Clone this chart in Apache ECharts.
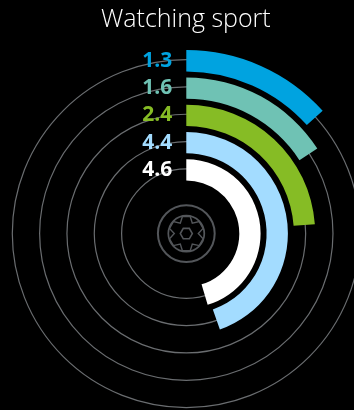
<!DOCTYPE html>
<html><head><meta charset="utf-8">
<style>html,body{margin:0;padding:0;background:#000}#c{width:354px;height:410px}</style>
<script src="https://cdn.jsdelivr.net/npm/echarts@6/dist/echarts.min.js"></script>
</head><body><div id="c"></div>
<script>
const title = 'Watching sport';
// inner to outer
const valueLabels = ['4.6', '4.4', '2.4', '1.6', '1.3'];
const sweepDegrees = [163.3, 160.7, 85.8, 57, 48];
const barColors = ['#ffffff', '#a3dcff', '#86bc25', '#6fc2b4', '#00a3e0'];
const ringIndex = [1, 2, 3, 4, 5];

const cx = 186.3, cy = 233.6;
const iconColor = '#53565a';
function hexPoints(r, rot) {
  const p = [];
  for (let i = 0; i < 6; i++) {
    const a = rot + i * Math.PI / 3;
    p.push([cx + r * Math.cos(a), cy + r * Math.sin(a)]);
  }
  return p;
}
function gearPoints() {
  const p = [];
  const R = 17.6, r = 12;
  for (let i = 0; i < 6; i++) {
    const a = i * Math.PI / 3, w = 0.3;
    p.push([cx + R * Math.cos(a - w), cy + R * Math.sin(a - w)]);
    p.push([cx + r * Math.cos(a), cy + r * Math.sin(a)]);
    p.push([cx + R * Math.cos(a + w), cy + R * Math.sin(a + w)]);
  }
  return p;
}
const chart = echarts.init(document.getElementById('c'));
chart.setOption({
  backgroundColor: '#000',
  animation: false,
  title: { text: title, left: 96, top: 2, textStyle: { color: '#fff', fontFamily: 'Open Sans', fontWeight: 300, fontSize: 25 } },
  polar: [
    { center: [cx, cy], radius: [50, 186.5] },
    { center: [cx, cy], radius: [64.7, 174] }
  ],
  angleAxis: [
    { polarIndex: 0, type: 'value', min: 0, max: 360, startAngle: 90, clockwise: true, show: false },
    { polarIndex: 1, type: 'value', min: 0, max: 360, startAngle: 90, clockwise: true, show: false }
  ],
  radiusAxis: [
    { polarIndex: 0, type: 'category', data: valueLabels, z: 5,
      axisLine: { show: false }, axisTick: { show: false }, splitLine: { show: false },
      axisLabel: { show: true, interval: 0, margin: 14, fontFamily: 'Open Sans', fontWeight: 700, fontSize: 21,
        color: (v) => barColors[valueLabels.indexOf(v)] } },
    { polarIndex: 1, type: 'value', min: ringIndex[0], max: ringIndex[ringIndex.length - 1], interval: 1,
      axisLine: { show: false }, axisTick: { show: false }, axisLabel: { show: false },
      splitLine: { show: true, lineStyle: { color: '#6a6d70', width: 1.2 } } }
  ],
  series: [{
    type: 'bar', coordinateSystem: 'polar', polarIndex: 0, barWidth: 21.3, z: 3,
    data: sweepDegrees.map((v, i) => ({ value: v, itemStyle: { color: barColors[i] } }))
  }],
  graphic: [
    { type: 'circle', silent: true, shape: { cx, cy, r: 28.4 }, style: { fill: 'none', stroke: iconColor, lineWidth: 2 } },
    { type: 'circle', silent: true, shape: { cx, cy, r: 18 }, style: { fill: 'none', stroke: iconColor, lineWidth: 1.7 } },
    { type: 'polygon', silent: true, shape: { points: gearPoints() }, style: { fill: 'none', stroke: iconColor, lineWidth: 1.4 } },
    { type: 'polygon', silent: true, shape: { points: hexPoints(6, 0) }, style: { fill: 'none', stroke: iconColor, lineWidth: 1.6 } }
  ]
});
</script></body></html>
